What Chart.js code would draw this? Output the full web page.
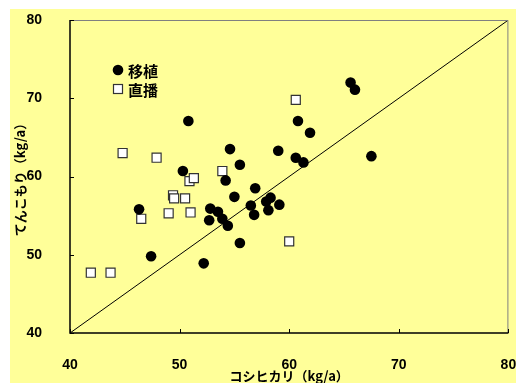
<!DOCTYPE html>
<html>
<head>
<meta charset="utf-8">
<script src="https://cdn.jsdelivr.net/npm/chart.js@4/dist/chart.umd.min.js"></script>
<style>
  html, body { margin: 0; padding: 0; background: #fff; }
  canvas { display: block; }
</style>
</head>
<body>
<canvas id="chart" width="516" height="383"></canvas>
<script>
const X_TITLE = 'コシヒカリ（kg/a）';
const Y_TITLE = 'てんこもり（kg/a）';
const SERIES_NAMES = ['移植', '直播'];
const TICK_VALUES = [40, 50, 60, 70, 80];

// 移植
const transplantX = [46.3, 47.4, 50.3, 50.8, 52.2, 52.7, 52.8, 53.5, 53.9, 54.2, 54.4, 54.6, 55.0, 55.5, 55.5,
  56.5, 56.8, 56.9, 57.9, 58.1, 58.3, 59.0, 59.1, 60.6, 60.8, 61.3, 61.9, 65.6, 66.0, 67.5];
const transplantY = [55.8, 49.8, 60.7, 67.1, 48.9, 54.4, 55.9, 55.5, 54.6, 59.5, 53.7, 63.5, 57.4, 61.5, 51.5,
  56.3, 55.1, 58.5, 56.8, 55.7, 57.3, 63.3, 56.4, 62.4, 67.1, 61.8, 65.6, 72.0, 71.1, 62.6];

// 直播
const directX = [41.9, 43.7, 44.8, 46.5, 47.9, 49.0, 49.4, 49.5, 50.5, 50.9, 51.0, 51.3, 53.9, 60.0, 60.6];
const directY = [47.7, 47.7, 63.0, 54.6, 62.4, 55.3, 57.6, 57.2, 57.2, 59.4, 55.4, 59.8, 60.7, 51.7, 69.8];

// 1:1 line
const lineX = [40, 80];
const lineY = [40, 80];

const toPoints = (xs, ys) => xs.map((x, i) => ({ x, y: ys[i] }));

const BG = '#ffff99';
const TICK_FONT = { family: '"Liberation Sans", Arial, sans-serif', size: 14, weight: 'bold' };
const TITLE_FONT = { family: '"Noto Sans CJK JP", sans-serif', size: 13, weight: 'bold', lineHeight: 1 };

// yellow panel, inward ticks, grey top/right frame
const framePlugin = {
  id: 'frame',
  beforeDraw(chart) {
    const ctx = chart.ctx;
    ctx.save();
    ctx.fillStyle = BG;
    ctx.fillRect(10, 9, chart.width - 10, chart.height - 9);
    ctx.restore();
  },
  afterDatasetsDraw(chart) {
    const { ctx, chartArea: a, scales: { x, y } } = chart;
    ctx.save();
    ctx.strokeStyle = '#808080';
    ctx.lineWidth = 1;
    ctx.beginPath();
    ctx.moveTo(a.left, a.top + 0.5);
    ctx.lineTo(a.right - 0.5, a.top + 0.5);
    ctx.lineTo(a.right - 0.5, a.bottom);
    ctx.stroke();
    ctx.strokeStyle = '#000';
    ctx.lineWidth = 1.5;
    ctx.beginPath();
    ctx.moveTo(a.left, a.top);
    ctx.lineTo(a.left, a.bottom);
    ctx.lineTo(a.right, a.bottom);
    ctx.stroke();
    ctx.lineWidth = 1;
    TICK_VALUES.forEach(v => {
      const px = Math.round(x.getPixelForValue(v)) + 0.5;
      ctx.beginPath();
      ctx.moveTo(px, a.bottom);
      ctx.lineTo(px, a.bottom - 4);
      ctx.stroke();
      const py = Math.round(y.getPixelForValue(v)) + 0.5;
      ctx.beginPath();
      ctx.moveTo(a.left, py);
      ctx.lineTo(a.left + 4, py);
      ctx.stroke();
    });
    ctx.restore();
  }
};

// legend inside the plot
const legendPlugin = {
  id: 'innerLegend',
  afterDraw(chart) {
    const ctx = chart.ctx;
    ctx.save();
    ctx.fillStyle = '#000';
    ctx.beginPath();
    ctx.arc(118, 70, 5.3, 0, Math.PI * 2);
    ctx.fill();
    ctx.fillStyle = '#fff';
    ctx.strokeStyle = '#333';
    ctx.lineWidth = 1.2;
    ctx.fillRect(113.5, 84.5, 9, 9);
    ctx.strokeRect(113.5, 84.5, 9, 9);
    ctx.fillStyle = '#000';
    ctx.font = 'bold 15px "Noto Sans CJK JP", sans-serif';
    ctx.textBaseline = 'middle';
    ctx.fillText(SERIES_NAMES[0], 128, 71);
    ctx.fillText(SERIES_NAMES[1], 128, 90);
    ctx.restore();
  }
};

new Chart(document.getElementById('chart'), {
  type: 'scatter',
  data: {
    datasets: [
      {
        type: 'line',
        data: toPoints(lineX, lineY),
        borderColor: '#000',
        borderWidth: 1,
        pointRadius: 0,
        fill: false
      },
      {
        label: SERIES_NAMES[0],
        data: toPoints(transplantX, transplantY),
        pointStyle: 'circle',
        pointRadius: 5.3,
        backgroundColor: '#000',
        borderColor: '#000',
        borderWidth: 0
      },
      {
        label: SERIES_NAMES[1],
        data: toPoints(directX, directY),
        pointStyle: 'rect',
        pointRadius: 6.4,
        backgroundColor: '#fff',
        borderColor: '#333',
        borderWidth: 1.2
      }
    ]
  },
  options: {
    responsive: false,
    animation: false,
    devicePixelRatio: 1,
    layout: { padding: { left: 0, right: 5, top: 20, bottom: 0 } },
    plugins: { legend: { display: false }, tooltip: { enabled: false } },
    scales: {
      x: {
        type: 'linear',
        min: 40, max: 80,
        grid: { display: false },
        border: { display: false },
        ticks: { stepSize: 10, color: '#000', font: TICK_FONT, padding: 16, maxRotation: 0 },
        title: { display: true, text: X_TITLE, color: '#000', font: TITLE_FONT, padding: { top: 0, bottom: 0 } },
        afterFit(s) { s.height = 50; s.paddingLeft = 0; s.paddingRight = 0; }
      },
      y: {
        type: 'linear',
        min: 40, max: 80,
        grid: { display: false },
        border: { display: false },
        ticks: { stepSize: 10, color: '#000', font: TICK_FONT, padding: 20 },
        title: { display: true, text: Y_TITLE, color: '#000', font: TITLE_FONT, padding: { top: 14, bottom: 0 } },
        afterFit(s) { s.width = 70; s.paddingTop = 0; s.paddingBottom = 0; }
      }
    }
  },
  plugins: [framePlugin, legendPlugin]
});
</script>
</body>
</html>
